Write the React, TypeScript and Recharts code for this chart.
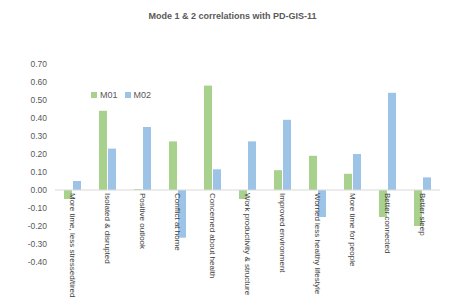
import React from "react";
import { BarChart, Bar, XAxis, YAxis, ReferenceLine } from "recharts";

const categories = [
  "More time, less stressed/tired",
  "Isolated & disrupted",
  "Positive outlook",
  "Conflict at home",
  "Concerned about health",
  "Work productivity & structure",
  "Improved environment",
  "Worried less healthy lifestyle",
  "More time for people",
  "Better connected",
  "Better sleep",
];
const m01 = [-0.05, 0.44, 0.005, 0.27, 0.58, -0.05, 0.11, 0.19, 0.09, -0.15, -0.2];
const m02 = [0.05, 0.23, 0.35, -0.265, 0.115, 0.27, 0.39, -0.15, 0.2, 0.54, 0.07];
const yTicks = [0.7, 0.6, 0.5, 0.4, 0.3, 0.2, 0.1, 0, -0.1, -0.2, -0.3, -0.4];
const title = "Mode 1 & 2 correlations with PD-GIS-11";
const seriesNames = ["M01", "M02"];
const seriesColors = ["#A9D18E", "#9DC3E6"];

const data = categories.map((c, i) => ({ name: c, M01: m01[i], M02: m02[i] }));

const FONT = "Liberation Sans, Arial, sans-serif";
const W = 450;
const H = 303;
const X_AXIS_H = 41;
const MARGIN = { top: 64, right: 10, bottom: 0, left: 0 };
const Y_MIN = -0.4;
const Y_MAX = 0.7;
const PLOT_H = H - MARGIN.top - MARGIN.bottom - X_AXIS_H;
const ZERO_Y = MARGIN.top + (PLOT_H * (Y_MAX - 0)) / (Y_MAX - Y_MIN);

const CatTick = (props: any) => {
  const { x, payload } = props;
  return (
    <text
      x={x}
      y={ZERO_Y + 3}
      transform={`rotate(90, ${x}, ${ZERO_Y + 3})`}
      textAnchor="start"
      dominantBaseline="central"
      fontSize={8}
      fontFamily={FONT}
      fill="#404040"
    >
      {payload.value}
    </text>
  );
};

export default function App() {
  return (
    <div style={{ position: "absolute", left: 0, top: 0, width: W, height: H, background: "#fff", overflow: "hidden" }}>
      <div
        style={{
          position: "absolute",
          top: 10,
          left: 0,
          width: 465,
          textAlign: "center",
          fontFamily: FONT,
          fontWeight: "bold",
          fontSize: 9,
          color: "#595959",
          lineHeight: "12px",
        }}
      >
        {title}
      </div>
      <BarChart width={W} height={H} data={data} margin={MARGIN} barSize={8} barGap={1}>
        <YAxis
          domain={[Y_MIN, Y_MAX]}
          ticks={yTicks}
          interval={0}
          width={55}
          axisLine={false}
          tickLine={false}
          tickFormatter={(v: number) => v.toFixed(2)}
          tick={{ fontSize: 8.5, fill: "#595959", fontFamily: FONT }}
        />
        <XAxis dataKey="name" axisLine={false} tickLine={false} interval={0} tick={<CatTick />} height={X_AXIS_H} />
        <ReferenceLine y={0} stroke="#d9d9d9" strokeWidth={1} />
        <Bar dataKey="M01" fill={seriesColors[0]} isAnimationActive={false} />
        <Bar dataKey="M02" fill={seriesColors[1]} isAnimationActive={false} />
      </BarChart>
      <div
        style={{
          position: "absolute",
          left: 91,
          top: 89,
          display: "flex",
          alignItems: "center",
          fontSize: 9,
          fontFamily: FONT,
          color: "#595959",
          lineHeight: "12px",
        }}
      >
        {seriesNames.map((n, i) => (
          <span key={n} style={{ display: "flex", alignItems: "center", marginRight: 7 }}>
            <span style={{ display: "inline-block", width: 6, height: 6, background: seriesColors[i], marginRight: 3 }} />
            {n}
          </span>
        ))}
      </div>
    </div>
  );
}
